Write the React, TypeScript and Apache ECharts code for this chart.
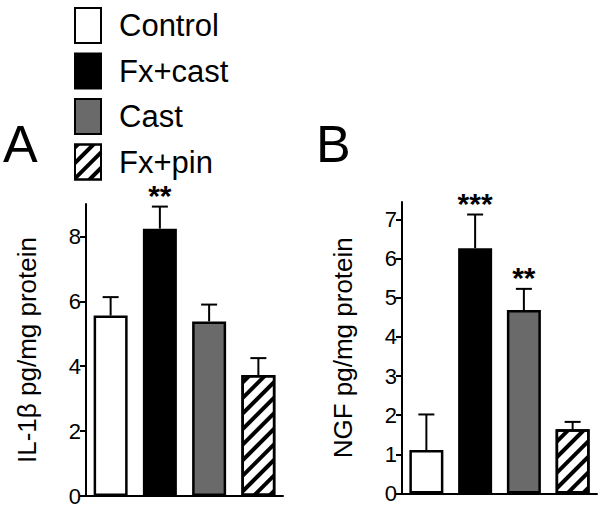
import React, { useEffect, useRef } from "react";
import * as echarts from "echarts";

const categories = ["Control", "Fx+cast", "Cast", "Fx+pin"];
const il1bMean = [5.56, 8.24, 5.38, 3.73];
const il1bSem = [0.57, 0.68, 0.52, 0.52];
const il1bStars = ["", "**", "", ""];
const il1bTicks = [0, 2, 4, 6, 8];
const ngfMean = [1.11, 6.27, 4.69, 1.64];
const ngfSem = [0.91, 0.86, 0.54, 0.19];
const ngfStars = ["", "***", "**", ""];
const ngfTicks = [0, 1, 2, 3, 4, 5, 6, 7];

const FONT = "Liberation Sans, Arial, Helvetica, sans-serif";
const fills = ["#ffffff", "#000000", "#6a6a6a", "#ffffff"];
const hatch = {
  symbol: "rect",
  symbolSize: 1,
  dashArrayX: [1, 0],
  dashArrayY: [4, 7],
  rotation: -Math.PI / 4,
  color: "#000",
};

export default function App() {
  const ref = useRef<HTMLDivElement>(null);
  useEffect(() => {
    const chart = echarts.init(ref.current!, null, { renderer: "svg" });
    const panels = [
      { mean: il1bMean, sem: il1bSem, stars: il1bStars, ticks: il1bTicks },
      { mean: ngfMean, sem: ngfSem, stars: ngfStars, ticks: ngfTicks },
    ];
    const series: any[] = [];
    panels.forEach((p, g) => {
      categories.forEach((name, i) => {
        series.push({
          type: "bar",
          name,
          xAxisIndex: g,
          yAxisIndex: g,
          barWidth: 34,
          barGap: "-100%",
          data: p.mean.map((v, j) => (j === i ? v : "-")),
          itemStyle: {
            color: fills[i],
            borderColor: "#000",
            borderWidth: 2.5,
            ...(i === 3 ? { decal: hatch } : {}),
          },
        });
      });
      // error bars and significance stars
      series.push({
        type: "custom",
        xAxisIndex: g,
        yAxisIndex: g,
        z: 5,
        data: p.mean.map((m, i) => [i, m, p.sem[i]]),
        encode: { x: 0, y: 1 },
        renderItem: (params: any, api: any) => {
          const x = api.value(0);
          const m = api.value(1);
          const s = api.value(2);
          const top = api.coord([x, m]);
          const cap = api.coord([x, m + s]);
          const star = p.stars[params.dataIndex];
          const children: any[] = [
            { type: "line", shape: { x1: top[0], y1: top[1], x2: cap[0], y2: cap[1] }, style: { stroke: "#000", lineWidth: 2 } },
            { type: "line", shape: { x1: cap[0] - 8, y1: cap[1], x2: cap[0] + 8, y2: cap[1] }, style: { stroke: "#000", lineWidth: 2 } },
          ];
          if (star) {
            children.push({
              type: "text",
              style: {
                text: star,
                x: cap[0],
                y: cap[1] - 11,
                align: "center",
                verticalAlign: "middle",
                font: `bold 30px ${FONT}`,
                fill: "#000",
              },
            });
          }
          return { type: "group", children };
        },
      });
    });

    const yAxisBase = (max: number, ticks: number[], name: string) => ({
      type: "value",
      min: 0,
      max,
      interval: ticks[1] - ticks[0],
      name,
      nameLocation: "middle",
      nameGap: 46,
      nameRotate: 90,
      nameTextStyle: { fontSize: 26, color: "#000", fontFamily: FONT },
      splitLine: { show: false },
      axisLine: { show: true, lineStyle: { color: "#000", width: 2 } },
      axisTick: { show: true, length: 6, lineStyle: { color: "#000", width: 2 }, customValues: ticks },
      axisLabel: {
        fontSize: 22,
        color: "#000",
        fontFamily: FONT,
        margin: 5,
        formatter: (v: number) => (ticks.indexOf(v) >= 0 ? String(v) : ""),
      },
    });
    const xAxisCommon = (g: number) => ({
      type: "category",
      gridIndex: g,
      data: categories,
      axisTick: { show: false },
      axisLabel: { show: false },
      axisLine: { show: true, lineStyle: { color: "#000", width: 2 } },
    });

    chart.setOption({
      animation: false,
      grid: [
        { left: 86, width: 197, top: 204, height: 292 },
        { left: 402, width: 195, top: 202, height: 291.5 },
      ],
      xAxis: [xAxisCommon(0), xAxisCommon(1)],
      yAxis: [
        { ...yAxisBase(9, il1bTicks, "IL-1β pg/mg protein"), gridIndex: 0 },
        { ...yAxisBase(7.45, ngfTicks, "NGF pg/mg protein"), gridIndex: 1 },
      ],
      legend: {
        data: categories,
        orient: "vertical",
        left: 74,
        top: 7,
        itemWidth: 26,
        itemHeight: 35,
        itemGap: 8.5,
        padding: 0,
        icon: "rect",
        selectedMode: false,
        textStyle: { fontSize: 31, color: "#000", fontFamily: FONT, padding: [0, 0, 0, 13] },
      },
      graphic: [
        { type: "text", left: 3, top: 118, style: { text: "A", font: `52px ${FONT}`, fill: "#000" } },
        { type: "text", left: 316, top: 118, style: { text: "B", font: `52px ${FONT}`, fill: "#000" } },
      ],
      series,
    });
    return () => chart.dispose();
  }, []);
  return <div ref={ref} style={{ width: 600, height: 510, position: "absolute", left: 0, top: 0 }} />;
}
